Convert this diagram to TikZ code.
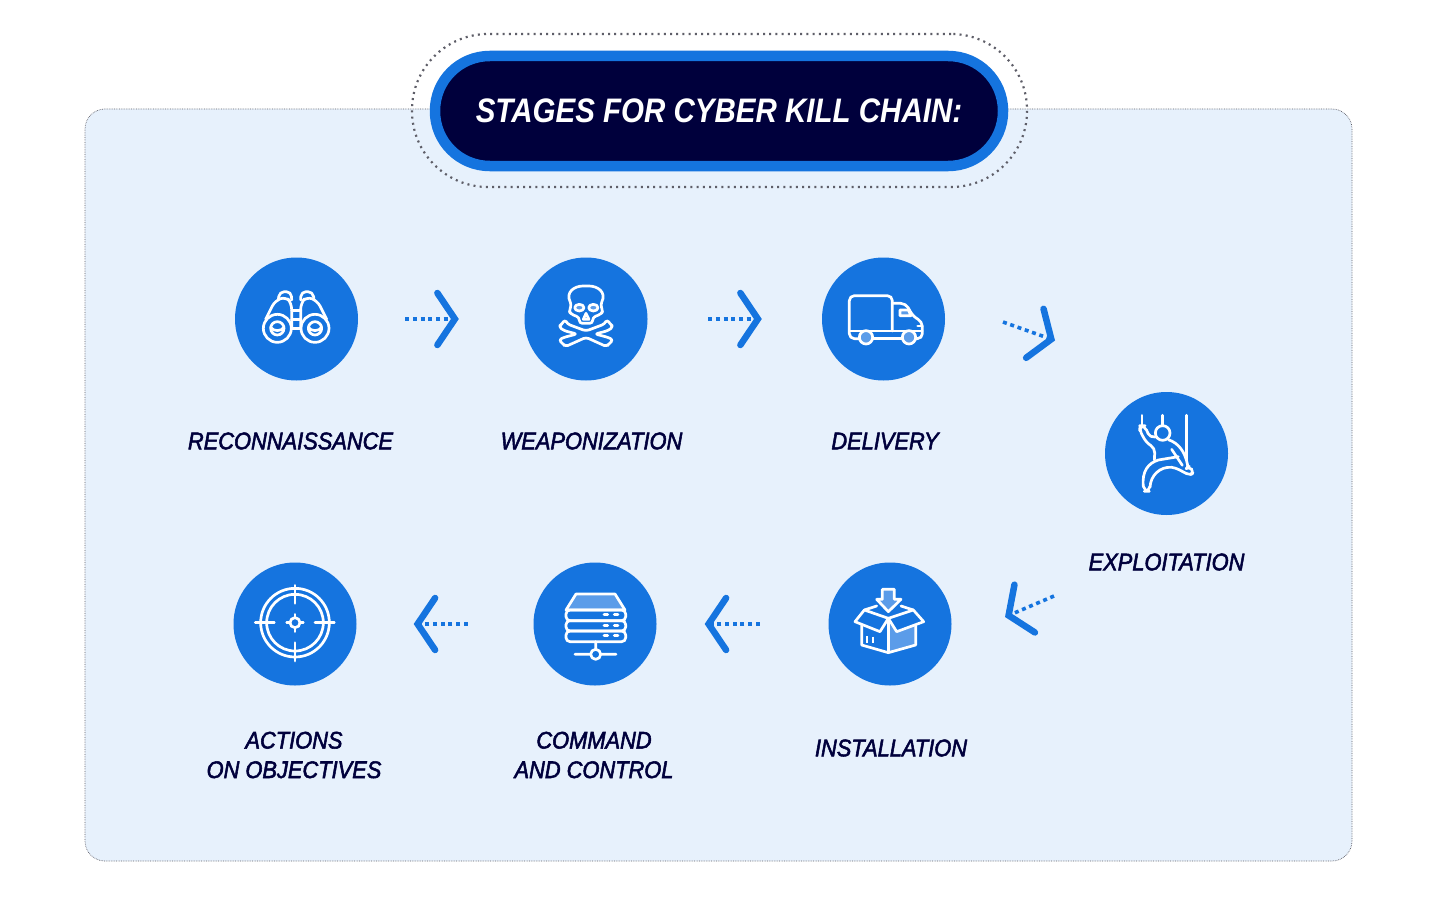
\documentclass[tikz,border=0pt]{standalone}
\usepackage{fontspec}
\setmainfont{Liberation Sans}
\newfontfamily\stagefont[FakeBold=2.2,FakeStretch=0.91]{Liberation Sans}
\newfontfamily\titlefont[FakeStretch=0.868]{Liberation Sans}
\usetikzlibrary{arrows.meta}
\definecolor{chainblue}{HTML}{1574DF}
\definecolor{chainlight}{HTML}{5B9CE9}
\definecolor{chainnavy}{HTML}{00003C}
\definecolor{chainpanel}{HTML}{E7F1FC}
\definecolor{chaindots}{HTML}{5E5E68}
\tikzset{
  stage/.style={circle,fill=chainblue,minimum size=123pt,inner sep=0pt},
  stagelabel/.style={text=chainnavy,font=\stagefont\fontsize{24}{29}\selectfont\itshape,align=center,inner sep=0pt},
  flow/.style={draw=chainblue,line width=3.6pt,dash pattern=on 4pt off 3.7pt,
    -{Straight Barb[length=17.5pt,width=52pt,line width=6.5pt,line cap=round,line join=miter]}},
  icon/.style={draw=white,line width=2.7pt,line join=round,line cap=round},
  iconfill/.style={icon,fill=chainlight},
}
\begin{document}
\begin{tikzpicture}[x=1pt,y=-1pt]
    \useasboundingbox (0,0) rectangle (1440,923);
    \fill[white] (0,0) rectangle (1440,923);
    \node[draw=chaindots,line width=.7pt,densely dotted,fill=chainpanel,rounded corners=20pt,minimum width=1267pt,minimum height=752pt,inner sep=0pt] (panel) at (718.5,485) {};
    \node[draw=chaindots,line width=2.2pt,dash pattern=on 2pt off 4.2pt,rounded corners=76pt,minimum width=615pt,minimum height=153pt,inner sep=0pt] (ring) at (719.5,110.5) {};
    \node[fill=chainnavy,draw=chainblue,line width=10.5pt,rounded corners=54.7pt,minimum width=568pt,minimum height=110pt,inner sep=0pt,text=white,font=\titlefont\fontsize{34}{40}\selectfont\bfseries\itshape] (title) at (719,111) {\raisebox{1.5pt}{STAGES FOR CYBER KILL CHAIN:}};

    \node[stage] (recon) at (296.5,319) {};
    \node[stage] (weapon) at (586,319) {};
    \node[stage] (delivery) at (883.5,319) {};
    \node[stage] (exploit) at (1166.5,453.5) {};
    \node[stage] (install) at (890,624) {};
    \node[stage] (command) at (595,624) {};
    \node[stage] (actions) at (295,624) {};

    \node[stagelabel] (reconlabel) at (290.5,441) {RECONNAISSANCE};
    \node[stagelabel] (weaponlabel) at (591.5,441) {WEAPONIZATION};
    \node[stagelabel] (deliverylabel) at (885,441) {DELIVERY};
    \node[stagelabel] (exploitlabel) at (1166.5,562) {EXPLOITATION};
    \node[stagelabel] (installlabel) at (891,748) {INSTALLATION};
    \node[stagelabel] (commandlabel) at (594,755) {COMMAND\\[.5pt]AND CONTROL};
    \node[stagelabel] (actionslabel) at (294,755) {ACTIONS\\[.5pt]ON OBJECTIVES};

    \draw[flow,shorten <=47pt,shorten >=65.5pt] (recon) -- (weapon);
    \draw[flow,shorten <=60.5pt,shorten >=60pt] (weapon) -- (delivery);
    \coordinate (exploitin) at (1055,340.5);
    \coordinate (deliveryout) at (1003,322);
    \draw[flow] (deliveryout) -- (exploitin);
    \coordinate (installin) at (1005,617);
    \coordinate (exploitout) at (1054,596);
    \draw[flow] (exploitout) -- (installin);
    \draw[flow,yshift=1.2pt,shorten <=68.5pt,shorten >=48pt] (install) -- (command);
    \draw[flow,yshift=1.2pt,shorten <=65.5pt,shorten >=57pt] (command) -- (actions);

    % binoculars
    \begin{scope}[shift={(230,250)},scale=1/3]
      \draw[icon] (142,235) circle (42) (142,235) circle (20) (255,235) circle (42) (255,235) circle (20);
      \draw[icon] (122,232) .. controls (130,245) and (154,245) .. (162,232);
      \draw[icon] (235,232) .. controls (243,245) and (267,245) .. (275,232);
      \draw[icon,rounded corners=6pt] (107,208) -- (135,152) -- (168,140) -- (185,160) -- (185,235);
      \draw[icon,rounded corners=6pt] (290,208) -- (262,152) -- (229,140) -- (212,160) -- (212,235);
      \draw[icon,rounded corners=5pt] (145,150) -- (148,125) -- (184,125) -- (185,150);
      \draw[icon,rounded corners=5pt] (252,150) -- (249,125) -- (213,125) -- (212,150);
      \draw[icon] (185,182) -- (212,182) (185,208) -- (212,208) (185,235) -- (212,235);
    \end{scope}
    % skull
    \begin{scope}[shift={(520,250)},scale=1/3]
      \draw[icon,rounded corners=3pt] (178,202) -- (152,192) -- (147,182) -- (155,165) .. controls (135,125) and (165,108) .. (198,108) .. controls (231,108) and (261,125) .. (241,165) -- (249,182) -- (244,192) -- (218,202) -- (218,220) -- (178,220) -- cycle;
      \draw[iconfill] (178,173) ellipse (14 and 10) (220,173) ellipse (14 and 10);
      \draw[icon] (198,190) -- (190,208) -- (207,208) -- cycle;
      \draw[icon,rounded corners=3pt] (135,208) -- (142,222) -- (198,243) -- (254,222) -- (261,208) -- (270,222) -- (280,230) -- (264,242) -- (225,252) -- (264,262) -- (280,270) -- (268,280) -- (260,290) -- (198,262) -- (136,290) -- (128,280) -- (116,270) -- (132,262) -- (171,252) -- (132,242) -- (116,230) -- (126,222) -- cycle;
    \end{scope}
    % truck
    \begin{scope}[shift={(815,250)},scale=1/3]
      \draw[icon,rounded corners=5pt] (232,243) -- (232,137) -- (103,137) -- (103,266) -- (133,266);
      \draw[icon,rounded corners=5pt] (232,160) -- (272,160) -- (295,200) -- (322,215) -- (322,266) -- (302,266);
      \draw[icon] (173,266) -- (262,266) (103,243) -- (322,243) (308,228) -- (322,228);
      \draw[iconfill] (255,180) -- (280,180) -- (288,197) -- (255,197) -- cycle;
      \draw[iconfill] (153,262) circle (20) (282,262) circle (20);
    \end{scope}
    % climber
    \begin{scope}[shift={(1100,388)},scale=1/3]
      \draw[icon] (126,82) -- (126,112) (188,82) -- (188,113) (260,82) -- (260,215);
      \draw[icon] (188,135) circle (22);
      \draw[icon,rounded corners=5pt] (169,146) -- (150,150) -- (134,113) -- (120,113) -- (119,128) -- (140,165) -- (165,180) -- (163,216);
      \draw[icon] (205,155) .. controls (235,165) and (255,190) .. (263,232);
      \draw[icon] (215,184) -- (247,232);
      \draw[icon] (130,295) .. controls (125,250) and (145,225) .. (175,216) -- (235,206);
      \draw[icon] (150,297) .. controls (152,262) and (180,235) .. (215,238) .. controls (232,240) and (245,250) .. (260,257);
      \draw[icon,rounded corners=5pt] (130,295) -- (133,310) -- (148,310) -- (150,297);
      \draw[icon,rounded corners=4pt] (260,257) -- (270,263) -- (282,252) -- (268,235) -- (258,242) -- (263,232);
    \end{scope}
    % box
    \begin{scope}[shift={(825,560)},scale=1/3]
      \fill[chainlight] (193,188) -- (215,215) -- (272,195) -- (272,255) -- (193,276) -- cycle;
      \draw[iconfill] (172,88) -- (208,88) -- (208,118) -- (228,118) -- (190,155) -- (155,118) -- (172,118) -- cycle;
      \draw[icon] (110,197) -- (110,255) -- (190,278) -- (272,255) -- (272,197);
      \draw[icon] (190,175) -- (190,278);
      \draw[icon] (118,150) -- (190,175) -- (165,215) -- (90,185) -- cycle;
      \draw[icon] (265,150) -- (190,175) -- (215,215) -- (296,185) -- cycle;
      \draw[icon] (118,150) -- (155,138) (228,138) -- (265,150);
      \draw[draw=white,line width=2pt] (127,228) -- (127,248) (143,230) -- (143,250);
    \end{scope}
    % servers
    \begin{scope}[shift={(530,560)},scale=1/3]
      \draw[iconfill] (138,102) -- (255,102) -- (285,150) -- (108,150) -- cycle;
      \draw[icon,rounded corners=4pt] (108,150) rectangle (287,182);
      \draw[icon,rounded corners=4pt] (108,182) rectangle (287,213);
      \draw[icon,rounded corners=4pt] (108,213) rectangle (287,245);
      \foreach \rowy in {164,196,227}
        \draw[icon] (222,\rowy) -- (233,\rowy) (253,\rowy) -- (264,\rowy);
      \draw[icon] (197,245) -- (197,268) (197,283) circle (15) (135,283) -- (181,283) (213,283) -- (258,283);
    \end{scope}
    % target
    \begin{scope}[shift={(230,560)},scale=1/3]
      \draw[icon] (195,188) circle (103) (195,188) circle (85) (195,188) circle (15);
      \draw[icon] (195,76) -- (195,130) (195,248) -- (195,303) (76,188) -- (133,188) (255,188) -- (313,188);
      \draw[icon] (170,188) -- (180,188) (210,188) -- (220,188) (195,163) -- (195,173) (195,203) -- (195,215);
    \end{scope}
\end{tikzpicture}
\end{document}
